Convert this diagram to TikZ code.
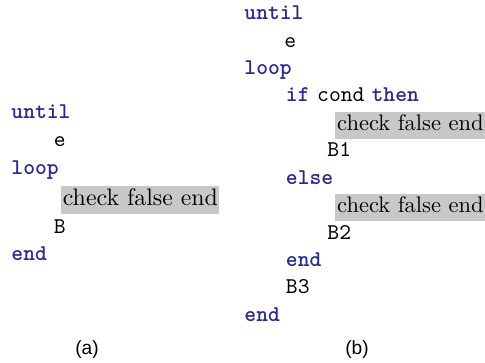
\documentclass[tikz,border=0pt]{standalone}
\usepackage{fontspec}
\newfontfamily\labelfont{Liberation Sans}
\definecolor{kwblue}{RGB}{42,42,135}
\definecolor{boxgray}{RGB}{200,200,200}
\tikzset{
  kw/.style={anchor=base west, inner sep=0pt, text=kwblue, font=\ttfamily\bfseries},
  ttx/.style={anchor=base west, inner sep=0pt, font=\ttfamily},
  chk/.style={anchor=base west, inner xsep=1pt, inner ysep=0pt, fill=boxgray, font=\rmfamily},
  lbl/.style={anchor=base, inner sep=0pt, font=\labelfont\fontsize{8.5}{10}\selectfont}
}
\begin{document}
\begin{tikzpicture}[x=0.4444pt, y=-0.4444pt]
\clip (0,0) rectangle (485,363);
% (a)
\node[kw]  (a1) at (11,119)   {until};
\node[ttx] (a2) at (53.5,147)   {e};
\node[kw]  (a3) at (11,175)   {loop};
\node[chk, inner xsep=0.6pt, font=\rmfamily\fontsize{10.6}{12.5}\selectfont] (a4) at (61,206) {\strut check false end};
\node[ttx] (a5) at (53.5,233.5) {B};
\node[kw]  (a6) at (11,261)   {end};
\node[lbl] (la) at (87,355)   {(a)};
% (b)
\node[kw]  (b1) at (244,20)   {until};
\node[ttx] (b2) at (284,47.5) {e};
\node[kw]  (b3) at (244,75)   {loop};
\node[kw]  (b4) at (285.5,102) {if};
\node[ttx] (b4c) at ([xshift=3pt]b4.base east) {cond};
\node[kw]  (b4t) at ([xshift=2.8pt]b4c.base east) {then};
\node[chk] (b5) at (334.5,130.5)  {\strut check false end};
\node[ttx] (b6) at (327,156.5) {B1};
\node[kw]  (b7) at (285.5,185) {else};
\node[chk] (b8) at (334.5,213)  {\strut check false end};
\node[ttx] (b9) at (327,240)  {B2};
\node[kw]  (b10) at (285.5,267) {end};
\node[ttx] (b11) at (285.5,293.5) {B3};
\node[kw]  (b12) at (244,321.5) {end};
\node[lbl] (lb) at (357,355)  {(b)};
\end{tikzpicture}
\end{document}
